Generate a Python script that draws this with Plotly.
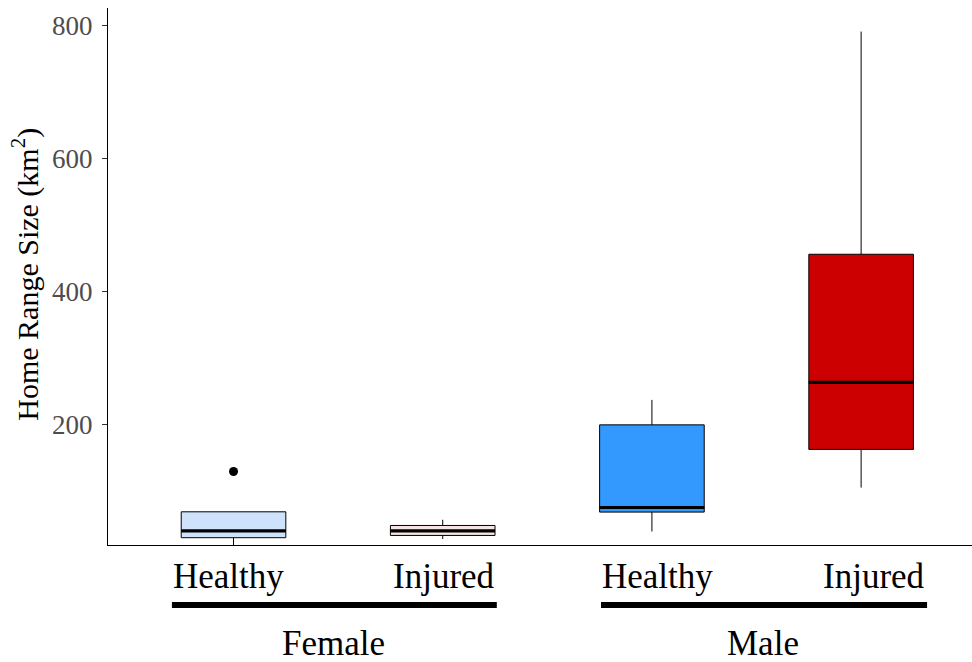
import plotly.graph_objects as go

# ---- data ----
sexes = ["Female", "Female", "Male", "Male"]
conditions = ["Healthy", "Injured", "Healthy", "Injured"]
q1_vals = [29, 32.4, 67.6, 162]
median_vals = [39.4, 39.4, 74.5, 263]
q3_vals = [68, 47.4, 199, 456]
lower_vals = [15, 27, 38.4, 104.5]
upper_vals = [68, 56, 236.6, 791.5]
outlier_idx = [0]
outlier_vals = [128.7]
fill_colors = ["#cfe2fb", "#f6e3e3", "#3399ff", "#cc0000"]
y_ticks = [200, 400, 600, 800]

BOX_W = 0.5
FONT = "Liberation Serif"

fig = go.Figure()
for i in range(len(conditions)):
    fig.add_trace(go.Box(
        x=[i], q1=[q1_vals[i]], median=[median_vals[i]], q3=[q3_vals[i]],
        lowerfence=[lower_vals[i]], upperfence=[upper_vals[i]],
        width=BOX_W, fillcolor=fill_colors[i],
        line=dict(color="black", width=1), boxpoints=False,
        whiskerwidth=0, showlegend=False, hoverinfo="skip",
    ))
    # thick median line
    fig.add_trace(go.Scatter(
        x=[i - BOX_W / 2, i + BOX_W / 2], y=[median_vals[i], median_vals[i]],
        mode="lines", line=dict(color="black", width=3.2),
        showlegend=False, hoverinfo="skip",
    ))

fig.add_trace(go.Scatter(
    x=outlier_idx, y=outlier_vals, mode="markers",
    marker=dict(color="black", size=9), showlegend=False, hoverinfo="skip",
))

fig.update_layout(
    width=972, height=662,
    margin=dict(l=108, r=0, t=8, b=117),
    paper_bgcolor="white", plot_bgcolor="white",
    font=dict(family=FONT),
    xaxis=dict(range=[-0.6, 3.53], showgrid=False, zeroline=False,
               showticklabels=False, ticks="", showline=True,
               linecolor="black", linewidth=1.2),
    yaxis=dict(range=[18, 827], showgrid=False, zeroline=False,
               tickvals=y_ticks, ticks="outside", ticklen=5, tickwidth=1,
               tickcolor="#333333", showline=True, linecolor="black",
               linewidth=1.2, ticklabelstandoff=4,
               tickfont=dict(family=FONT, size=27, color="#4d4d4d")),
)

# Y axis title
fig.add_annotation(text="Home Range Size (km<sup>2</sup>)", textangle=-90,
                   xref="paper", yref="paper", x=-0.095, y=0.505,
                   xanchor="center", yanchor="middle", showarrow=False,
                   font=dict(family=FONT, size=30, color="black"))

# condition labels and group bars
label_pos = [(0.0729, "left"), (0.450, "right"), (0.5694, "left"), (0.948, "right")]
for (xp, anchor), lab in zip(label_pos, conditions):
    fig.add_annotation(text=lab, xref="paper", yref="paper", x=xp, y=-0.058,
                       xanchor=anchor, yanchor="middle", showarrow=False,
                       font=dict(family=FONT, size=35, color="black"))

groups = ["Female", "Male"]
bar_spans = [(0.074, 0.450), (0.5706, 0.948)]
group_centers = [0.261, 0.758]
for g, (x0, x1), xc in zip(groups, bar_spans, group_centers):
    fig.add_shape(type="line", xref="paper", yref="paper", x0=x0, x1=x1,
                  y0=-0.1117, y1=-0.1117, line=dict(color="black", width=6))
    fig.add_annotation(text=g, xref="paper", yref="paper", x=xc, y=-0.183,
                       xanchor="center", yanchor="middle", showarrow=False,
                       font=dict(family=FONT, size=35, color="black"))

fig.write_html(
    "out.html",
    config={"displayModeBar": False},
    post_script="document.body.style.margin='0';document.body.style.overflow='hidden';",
)
